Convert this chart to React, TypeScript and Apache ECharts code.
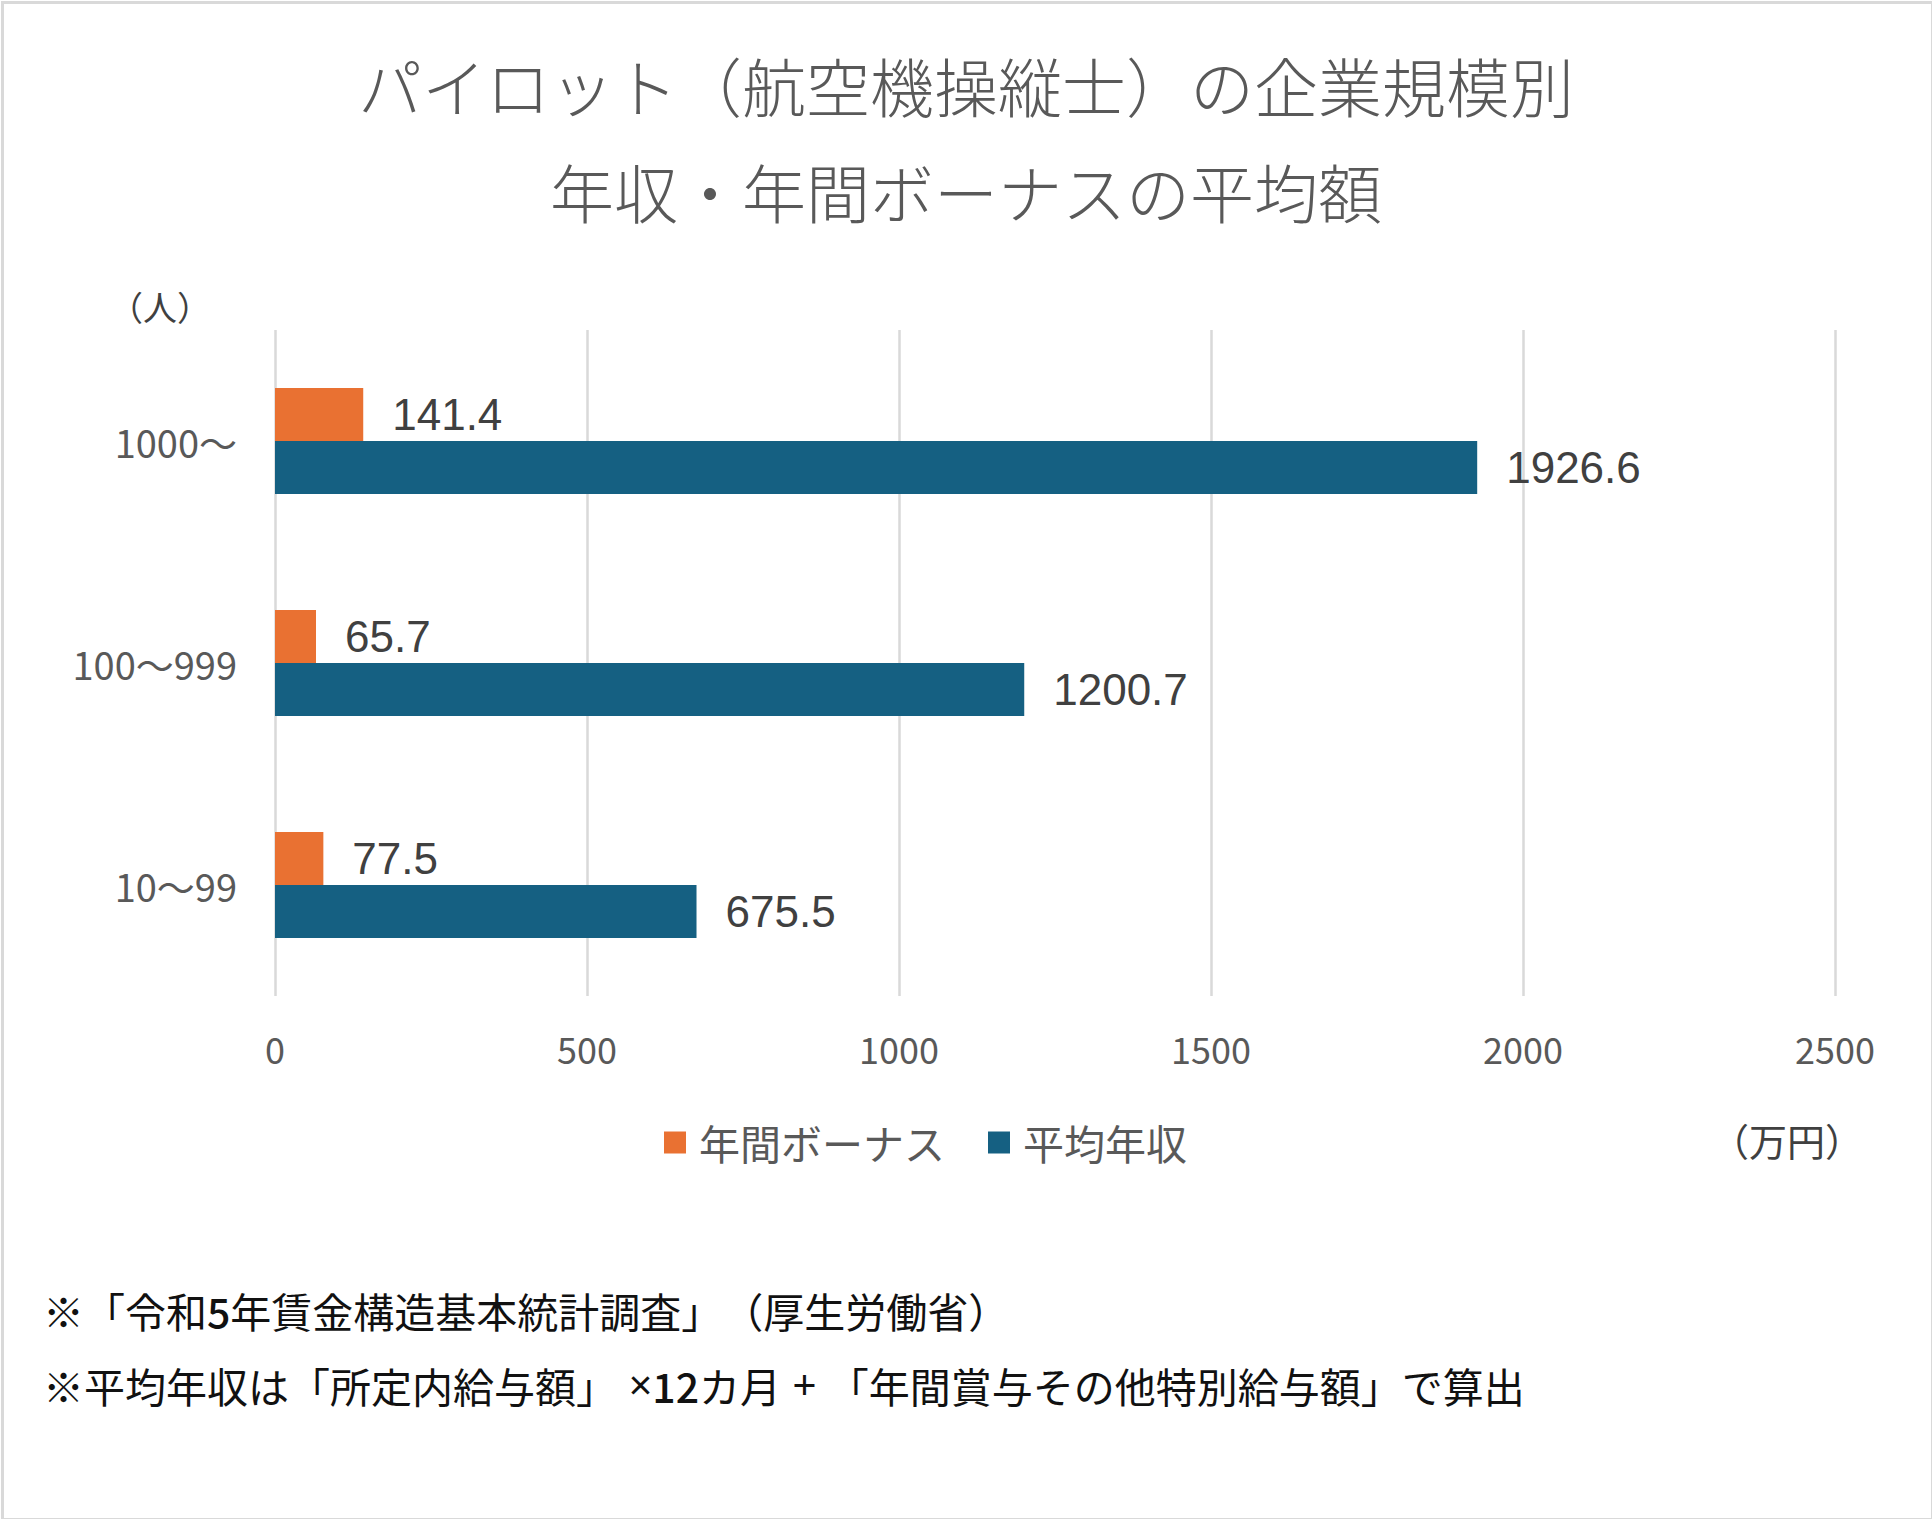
import React, { useEffect, useRef } from "react";
import * as echarts from "echarts";

const categories = ["10〜99", "100〜999", "1000〜"];
const bonusValues = [77.5, 65.7, 141.4];
const incomeValues = [675.5, 1200.7, 1926.6];
const seriesNames = ["年間ボーナス", "平均年収"];
const xTicks = { min: 0, max: 2500, interval: 500 };
const titleLines = ["パイロット（航空機操縦士）の企業規模別", "年収・年間ボーナスの平均額"];
const yUnit = "（人）";
const xUnit = "（万円）";
const notes = [
  "※「令和{b|5}年賃金構造基本統計調査」（厚生労働省）",
  "※平均年収は「所定内給与額」{l| ×}{b|12}カ月{l| + }「年間賞与その他特別給与額」で算出",
];

const ORANGE = "#E97132";
const BLUE = "#156082";
const CJK = "'Noto Sans CJK JP', 'Noto Sans', sans-serif";
const LATIN = "'Liberation Sans', Arial, sans-serif";

export default function App() {
  const ref = useRef<HTMLDivElement>(null);
  useEffect(() => {
    if (!ref.current) return;
    const chart = echarts.init(ref.current, undefined, { renderer: "svg" });
    const noteRich = {
      b: { fontFamily: CJK, fontWeight: 500, fontSize: 41, color: "#111111" },
      l: { fontFamily: LATIN, fontSize: 41, color: "#111111" },
    };
    chart.setOption({
      animation: false,
      backgroundColor: "#ffffff",
      title: {
        text: titleLines.join("\n"),
        left: "center",
        top: 26,
        textStyle: {
          fontFamily: CJK,
          fontSize: 64,
          fontWeight: 300,
          color: "#595959",
          lineHeight: 106,
        },
      },
      legend: {
        left: 659,
        top: 1117,
        itemWidth: 22,
        itemHeight: 22,
        itemGap: 43,
        icon: "rect",
        data: seriesNames,
        textStyle: {
          fontFamily: CJK,
          fontSize: 41,
          color: "#595959",
          padding: [0, 0, 0, 8],
        },
      },
      grid: { left: 275, right: 97, top: 330, bottom: 1519 - 996, containLabel: false },
      xAxis: {
        type: "value",
        min: xTicks.min,
        max: xTicks.max,
        interval: xTicks.interval,
        axisLine: { show: false },
        axisTick: { show: false },
        splitLine: { show: true, lineStyle: { color: "#d9d9d9", width: 2.5 } },
        axisLabel: {
          margin: 34,
          fontFamily: CJK,
          fontSize: 36,
          color: "#595959",
          formatter: (v: number) => String(v),
        },
      },
      yAxis: {
        type: "category",
        data: categories,
        axisLine: { show: false },
        axisTick: { show: false },
        splitLine: { show: false },
        axisLabel: {
          margin: 38,
          fontFamily: CJK,
          fontSize: 38,
          color: "#595959",
        },
      },
      series: [
        {
          name: seriesNames[0],
          type: "bar",
          data: bonusValues,
          barWidth: 53,
          barGap: "0%",
          itemStyle: { color: ORANGE },
          label: {
            show: true,
            position: "right",
            distance: 29,
            fontFamily: LATIN,
            fontSize: 44,
            color: "#404040",
          },
        },
        {
          name: seriesNames[1],
          type: "bar",
          data: incomeValues,
          barWidth: 53,
          barGap: "0%",
          itemStyle: { color: BLUE },
          label: {
            show: true,
            position: "right",
            distance: 29,
            fontFamily: LATIN,
            fontSize: 44,
            color: "#404040",
          },
        },
      ],
      graphic: [
        {
          type: "rect",
          left: 0,
          top: 0,
          shape: { x: 1, y: 1, width: 1930, height: 1517 },
          style: { fill: "none", stroke: "#d9d9d9", lineWidth: 3 },
          silent: true,
        },
        {
          type: "text",
          x: 160,
          y: 306,
          style: {
            text: yUnit,
            fontFamily: CJK,
            fontSize: 34,
            fill: "#404040",
            align: "center",
            verticalAlign: "middle",
          },
        },
        {
          type: "text",
          x: 1787,
          y: 1139,
          style: {
            text: xUnit,
            fontFamily: CJK,
            fontSize: 38,
            fill: "#404040",
            align: "center",
            verticalAlign: "middle",
          },
        },
        {
          type: "text",
          x: 43,
          y: 1310,
          style: {
            text: notes[0],
            rich: noteRich,
            fontFamily: CJK,
            fontSize: 41,
            fill: "#111111",
            align: "left",
            verticalAlign: "middle",
          },
        },
        {
          type: "text",
          x: 43,
          y: 1385,
          style: {
            text: notes[1],
            rich: noteRich,
            fontFamily: CJK,
            fontSize: 41,
            fill: "#111111",
            align: "left",
            verticalAlign: "middle",
          },
        },
      ],
    });
    return () => chart.dispose();
  }, []);
  return (
    <div
      ref={ref}
      style={{
        position: "absolute",
        left: 0,
        top: 0,
        width: 1932,
        height: 1519,
        ["textSpacingTrim" as any]: "space-all",
      } as React.CSSProperties}
    />
  );
}
